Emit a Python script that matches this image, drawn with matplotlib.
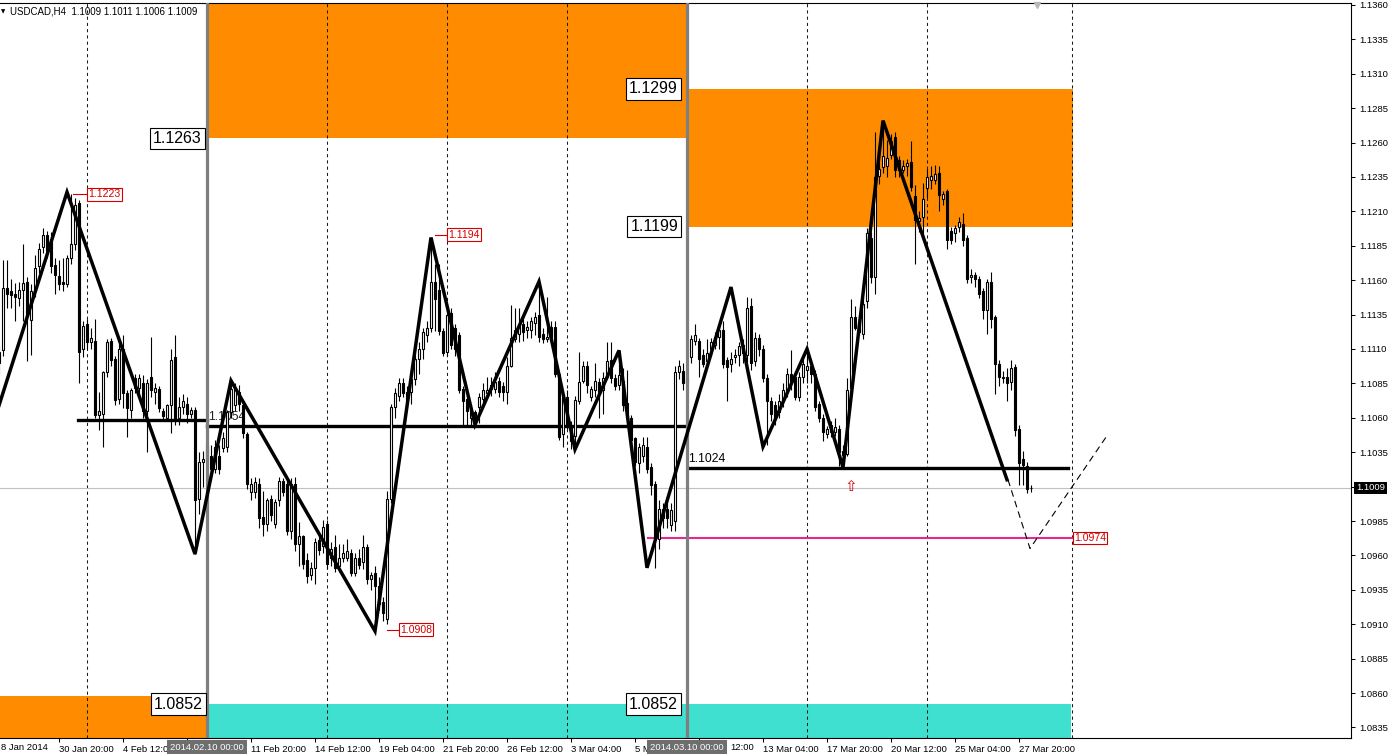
import matplotlib
matplotlib.use('Agg')
import matplotlib.pyplot as plt
from matplotlib.patches import Rectangle
import numpy as np

plt.rcParams['font.family'] = ['Liberation Sans', 'DejaVu Sans']

# USDCAD H4 candles, prices in pips above 1.0000 (1.1009 -> 1009)
opens = [
    1100, 1109, 1154, 1152, 1150, 1147, 1153, 1159, 1131, 1152,
    1170, 1184, 1193, 1189, 1171, 1163, 1159, 1157, 1176, 1186,
    1216, 1110, 1128, 1115, 1116, 1062, 1063, 1093, 1116, 1103,
    1074, 1110, 1078, 1066, 1089, 1082, 1085, 1065, 1090, 1079,
    1081, 1065, 1060, 1069, 1104, 1060, 1068, 1070, 1063, 1066,
    1001, 1028, 1030, 1032, 1023, 1032, 1038, 1039, 1064, 1069,
    1079, 1069, 1048, 1006, 1006, 1012, 988, 983, 1001, 983,
    1000, 1014, 1012, 978, 1012, 968, 974, 957, 946, 951,
    971, 967, 983, 958, 966, 952, 958, 958, 962, 947,
    958, 955, 966, 943, 947, 938, 926, 914, 1001, 1068,
    1076, 1085, 1073, 1079, 1088, 1103, 1110, 1120, 1125, 1159,
    1153, 1123, 1108, 1136, 1125, 1120, 1081, 1074, 1060, 1064,
    1068, 1074, 1078, 1084, 1081, 1087, 1083, 1079, 1098, 1117,
    1121, 1128, 1124, 1124, 1129, 1135, 1121, 1117, 1126, 1126,
    1092, 1048, 1075, 1055, 1047, 1072, 1087, 1098, 1075, 1080,
    1086, 1080, 1090, 1102, 1089, 1084, 1087, 1071, 1060, 1045,
    1027, 1032, 1039, 1024, 1012, 972, 987, 994, 982, 985,
    1093, 1094, 1085, 1104, 1116, 1116, 1106, 1101, 1110, 1113,
    1119, 1124, 1102, 1099, 1104, 1106, 1113, 1106, 1141, 1101,
    1118, 1110, 1089, 1072, 1069, 1064, 1072, 1080, 1092, 1090,
    1075, 1090, 1095, 1098, 1092, 1070, 1060, 1048, 1055, 1050,
    1052, 1036, 1034, 1082, 1133, 1122, 1121, 1145, 1191, 1162,
    1236, 1242, 1243, 1251, 1264, 1247, 1240, 1243, 1246, 1221,
    1203, 1206, 1227, 1233, 1233, 1238, 1219, 1225, 1196, 1194,
    1199, 1201, 1191, 1162, 1164, 1161, 1152, 1138, 1159, 1133,
    1099, 1089, 1090, 1086, 1097, 1052, 1030, 1025, 1009]
highs = [
    1112, 1175, 1175, 1161, 1158, 1159, 1186, 1162, 1157, 1178,
    1187, 1198, 1196, 1195, 1176, 1175, 1176, 1178, 1223, 1220,
    1218, 1130, 1132, 1125, 1132, 1079, 1094, 1117, 1118, 1105,
    1114, 1120, 1080, 1082, 1092, 1092, 1091, 1088, 1119, 1085,
    1083, 1067, 1070, 1110, 1120, 1075, 1077, 1075, 1068, 1068,
    1035, 1036, 1046, 1040, 1044, 1040, 1050, 1066, 1087, 1085,
    1084, 1070, 1050, 1016, 1017, 1016, 1007, 1002, 1004, 1001,
    1017, 1016, 1016, 1016, 1017, 984, 975, 962, 955, 973,
    974, 986, 986, 970, 975, 968, 968, 972, 965, 962,
    965, 975, 968, 948, 952, 944, 930, 1007, 1070, 1082,
    1089, 1089, 1083, 1090, 1106, 1115, 1125, 1130, 1191, 1172,
    1172, 1125, 1140, 1140, 1128, 1122, 1083, 1078, 1070, 1066,
    1078, 1085, 1090, 1090, 1093, 1090, 1086, 1104, 1142, 1140,
    1140, 1135, 1130, 1133, 1137, 1159, 1125, 1148, 1130, 1130,
    1093, 1078, 1080, 1058, 1076, 1108, 1101, 1101, 1083, 1100,
    1089, 1093, 1115, 1115, 1092, 1109, 1096, 1095, 1062, 1046,
    1042, 1046, 1046, 1027, 1014, 1000, 998, 999, 998, 1098,
    1102, 1100, 1092, 1120, 1128, 1118, 1110, 1117, 1118, 1122,
    1125, 1130, 1104, 1108, 1110, 1115, 1117, 1148, 1147, 1122,
    1121, 1113, 1092, 1075, 1072, 1077, 1085, 1096, 1109, 1093,
    1093, 1103, 1110, 1103, 1095, 1072, 1063, 1054, 1058, 1060,
    1055, 1040, 1089, 1146, 1141, 1133, 1148, 1198, 1195, 1268,
    1258, 1276, 1262, 1266, 1268, 1250, 1247, 1248, 1261, 1229,
    1210, 1231, 1241, 1243, 1244, 1243, 1225, 1226, 1199, 1200,
    1206, 1209, 1193, 1168, 1166, 1163, 1154, 1161, 1166, 1135,
    1102, 1094, 1096, 1102, 1099, 1055, 1036, 1028, 1011]
lows = [
    1092, 1105, 1140, 1140, 1130, 1141, 1130, 1101, 1106, 1148,
    1165, 1180, 1176, 1165, 1150, 1153, 1152, 1155, 1172, 1182,
    1085, 1104, 1110, 1110, 1060, 1051, 1039, 1090, 1098, 1069,
    1070, 1067, 1046, 1060, 1078, 1077, 1060, 1035, 1075, 1070,
    1064, 1058, 1058, 1049, 1055, 1055, 1063, 1056, 1060, 961,
    990, 1010, 1015, 1018, 1020, 1019, 1035, 1035, 1060, 1065,
    1065, 1045, 1008, 1000, 1002, 980, 974, 978, 985, 980,
    996, 1003, 975, 972, 963, 952, 950, 940, 942, 939,
    960, 962, 950, 952, 948, 948, 955, 956, 945, 945,
    950, 950, 939, 935, 906, 920, 912, 910, 998, 1060,
    1072, 1075, 1067, 1070, 1084, 1092, 1103, 1115, 1122, 1123,
    1120, 1105, 1105, 1110, 1105, 1078, 1054, 1054, 1055, 1055,
    1056, 1070, 1075, 1076, 1078, 1075, 1072, 1070, 1097, 1115,
    1115, 1116, 1118, 1118, 1120, 1115, 1114, 1115, 1115, 1090,
    1044, 1039, 1052, 1037, 1040, 1070, 1085, 1078, 1072, 1075,
    1060, 1063, 1088, 1085, 1080, 1080, 1065, 1058, 1040, 1025,
    1020, 1028, 1020, 1004, 951, 965, 980, 980, 978, 978,
    1088, 1080, 1080, 1100, 1113, 1090, 1097, 1099, 1105, 1110,
    1110, 1096, 1072, 1093, 1100, 1098, 1100, 1095, 1095, 1098,
    1105, 1086, 1040, 1058, 1055, 1060, 1068, 1075, 1080, 1073,
    1072, 1085, 1085, 1085, 1065, 1057, 1043, 1045, 1046, 1047,
    1025, 1024, 1032, 1080, 1124, 1120, 1117, 1140, 1158, 1150,
    1230, 1238, 1235, 1248, 1235, 1235, 1238, 1236, 1225, 1172,
    1195, 1189, 1220, 1226, 1230, 1210, 1215, 1183, 1186, 1188,
    1195, 1185, 1158, 1158, 1155, 1147, 1132, 1121, 1125, 1077,
    1083, 1085, 1072, 1080, 1047, 1011, 1011, 1005, 1006]
closes = [
    1108, 1154, 1150, 1149, 1148, 1153, 1158, 1134, 1152, 1169,
    1183, 1193, 1181, 1170, 1164, 1157, 1157, 1176, 1186, 1215,
    1108, 1127, 1115, 1118, 1062, 1065, 1093, 1115, 1102, 1073,
    1110, 1078, 1067, 1080, 1082, 1089, 1065, 1085, 1080, 1082,
    1067, 1061, 1069, 1102, 1058, 1068, 1072, 1063, 1066, 1000,
    1028, 1030, 1040, 1023, 1039, 1023, 1045, 1064, 1081, 1082,
    1070, 1049, 1012, 1012, 1013, 987, 983, 1000, 989, 999,
    1014, 1006, 978, 1012, 968, 974, 954, 945, 951, 970,
    964, 981, 954, 965, 951, 958, 962, 963, 947, 958,
    953, 966, 943, 946, 938, 925, 918, 1001, 1068, 1078,
    1085, 1078, 1079, 1088, 1103, 1110, 1122, 1125, 1159, 1146,
    1123, 1107, 1135, 1113, 1110, 1080, 1072, 1065, 1066, 1058,
    1075, 1080, 1080, 1081, 1086, 1079, 1079, 1098, 1118, 1124,
    1127, 1122, 1126, 1130, 1133, 1119, 1117, 1119, 1119, 1092,
    1046, 1075, 1055, 1043, 1073, 1086, 1098, 1084, 1081, 1087,
    1079, 1089, 1101, 1089, 1083, 1091, 1069, 1060, 1044, 1028,
    1039, 1040, 1023, 1011, 972, 994, 994, 987, 993, 1093,
    1098, 1085, 1090, 1117, 1120, 1103, 1099, 1107, 1115, 1119,
    1124, 1099, 1097, 1103, 1106, 1112, 1107, 1140, 1100, 1118,
    1110, 1089, 1072, 1063, 1060, 1072, 1080, 1092, 1087, 1075,
    1090, 1099, 1098, 1092, 1068, 1060, 1050, 1052, 1050, 1053,
    1035, 1033, 1080, 1133, 1125, 1128, 1143, 1194, 1162, 1235,
    1241, 1250, 1249, 1261, 1240, 1240, 1243, 1245, 1228, 1204,
    1205, 1219, 1235, 1236, 1237, 1222, 1223, 1189, 1189, 1198,
    1202, 1189, 1161, 1164, 1161, 1150, 1138, 1159, 1132, 1099,
    1090, 1090, 1085, 1096, 1051, 1027, 1026, 1008, 1009]

# ZigZag pivots (bar index, pips) and the dashed projection
zz_bars = [0, 17, 49, 58, 94, 108, 119, 135, 144, 155, 162, 183, 191, 202, 211, 221, 252]
zz_pips = [1069, 1224, 961, 1087, 905, 1191, 1055, 1159, 1037, 1109, 951, 1155, 1039, 1110, 1024, 1276, 1015]
proj_bars = [252.25, 257.75, 277]
proj_pips = [1015, 965, 1047]

# time scale; labels partly covered by the vertical-line date boxes are cut as on screen
time_ticks = [15, 31, 47, 63, 79, 95, 111, 127, 143, 159, 175, 191, 207, 223, 239, 255]
time_labels = ['30 Jan 20:00', '4 Feb 12:0', '', '11 Feb 20:00', '14 Feb 12:00',
               '19 Feb 04:00', '21 Feb 20:00', '26 Feb 12:00', '3 Mar 04:00', '5 M',
               '', '13 Mar 04:00', '17 Mar 20:00', '20 Mar 12:00', '25 Mar 04:00',
               '27 Mar 20:00']
price_ticks = [1.0835, 1.0860, 1.0885, 1.0910, 1.0935, 1.0960, 1.0985,
               1.1010, 1.1035, 1.1060, 1.1085, 1.1110, 1.1135, 1.1160,
               1.1185, 1.1210, 1.1235, 1.1260, 1.1285, 1.1310, 1.1335, 1.1360]
week_bars = [22, 82, 112, 142, 202, 232, 268.25]


def P(v):
    return 1 + np.asarray(v, dtype=float) / 10000


def B(px):
    # pixel column of the chart -> bar index
    return (px + 1) / 4.0


fig = plt.figure(figsize=(13.93, 7.56), dpi=100)
ax = fig.add_axes([0, 18 / 756, 1351 / 1393, 735 / 756])
ax.set_xlim(0.25, 338)
ax.set_ylim(1.08273, 1.136145)

orange = '#ff8c00'
cyan = '#40e0d0'
top = 1.14
bot = 1.08
ax.add_patch(Rectangle((52, 1.1263), B(686) - 52, top - 1.1263, fc=orange, ec='none', zorder=0))
ax.add_patch(Rectangle((B(688), 1.1199), B(1073) - B(688), 0.0100, fc=orange, ec='none', zorder=0))
ax.add_patch(Rectangle((-2, bot), B(206) + 2, 1.0858 - bot, fc=orange, ec='none', zorder=0))
ax.add_patch(Rectangle((B(208), bot), B(686) - B(208), 1.0852 - bot, fc=cyan, ec='none', zorder=0))
ax.add_patch(Rectangle((B(688), bot), B(1071) - B(688), 1.0852 - bot, fc=cyan, ec='none', zorder=0))

for wb in week_bars:
    ax.axvline(wb, color='#1a1a1a', lw=0.75, ls=(0, (3, 3)), zorder=1)

# current bid line
ax.axhline(P(1009), color='#c0c0c0', lw=0.8, zorder=1.5)

# horizontal levels
ax.plot([B(78), 52], [1.10585, 1.10585], color='black', lw=2.4, zorder=2.5)
ax.plot([52, B(686)], [1.1054, 1.1054], color='black', lw=2.4, zorder=2.5)
ax.plot([B(688), B(1068)], [1.10235, 1.10235], color='black', lw=2.4, zorder=2.5)
ax.plot([B(648), B(1072)], [1.0973, 1.0973], color='#e6278e', lw=1.5, zorder=2.5)
ax.text(B(208), 1.1054 + 0.00025, '1.1054', fontsize=8.8, color='#222222', ha='left', va='bottom', zorder=2)
ax.text(B(688), 1.10235 + 0.00025, '1.1024', fontsize=8.8, color='black', ha='left', va='bottom', zorder=2)

# candles
idx = np.arange(len(opens))
O, H, L, C = P(opens), P(highs), P(lows), P(closes)
ax.vlines(idx, L, H, color='black', lw=0.8, zorder=3)
body_lo = np.minimum(O, C)
body_h = np.maximum(np.abs(C - O), 0.00003)
fills = ['white' if c >= o else 'black' for o, c in zip(opens, closes)]
ax.bar(idx, body_h, bottom=body_lo, width=0.55, color=fills, edgecolor='black', linewidth=0.8, zorder=3.2)

# period separators
ax.axvline(52, color='#7f7f7f', lw=2.3, zorder=3.5)
ax.axvline(172, color='#7f7f7f', lw=2.3, zorder=3.5)

# zigzag
ax.plot(zz_bars, P(zz_pips), color='black', lw=2.5, zorder=5, solid_joinstyle='miter')
ax.plot(proj_bars, P(proj_pips), color='black', lw=0.8, ls=(0, (6, 4)), zorder=5)

# red price labels
red = '#d40000'
for x0, x1, tx, v, s in [(B(73), B(86), B(88), 1222.3, '1.1223'),
                          (B(435), B(446), B(448), 1193.2, '1.1194'),
                          (B(387), B(398), B(400), 906.1, '1.0908'),
                          (None, None, B(1074), 972.7, '1.0974')]:
    if x0 is not None:
        ax.plot([x0, x1], [P(v), P(v)], color=red, lw=0.8, zorder=6)
    ax.text(tx, P(v), s, color=red, fontsize=7.6, ha='left', va='center', zorder=7,
            bbox=dict(boxstyle='square,pad=0.12', fc='white', ec=red, lw=0.8))

ax.text(B(851), P(1010), '\u21e7', color=red, fontsize=11, ha='center', va='center',
        family='DejaVu Sans', zorder=6)

# boxed level labels
for xr, v, s in [(B(202), 1.1263, '1.1263'), (B(678), 1.1299, '1.1299'),
                 (B(678), 1.1199, '1.1199'), (B(203), 1.0852, '1.0852'),
                 (B(678), 1.0852, '1.0852')]:
    ax.text(xr, v, s, fontsize=11.5, ha='right', va='center', zorder=7,
            bbox=dict(boxstyle='square,pad=0.2', fc='white', ec='black', lw=0.8))

# chart shift marker
ax.plot([B(1037)], [1.1360], marker='v', color='#b8b8b8', ms=5, zorder=7, clip_on=False)

# axes styling
ax.spines['left'].set_visible(False)
for s in ['top', 'right', 'bottom']:
    ax.spines[s].set_linewidth(0.8)
ax.yaxis.tick_right()
ax.set_yticks(price_ticks)
ax.set_yticklabels(['' if abs(t - 1.1010) < 1e-6 else '%.4f' % t for t in price_ticks])
ax.set_xticks(time_ticks)
ax.set_xticklabels(time_labels, ha='left')
ax.tick_params(axis='both', labelsize=6.8, length=3, width=0.75, pad=2)
ax.tick_params(axis='y', pad=3)

xt = ax.get_xaxis_transform()
ax.text(0.6, -9 / 735, '8 Jan 2014', transform=xt, fontsize=6.8,
        ha='left', va='center', clip_on=False)
ax.text(B(730), -9 / 735, '12:00', transform=xt, fontsize=6.8,
        ha='left', va='center', clip_on=False)
for b, s in [(52, '2014.02.10 00:00'), (172, '2014.03.10 00:00')]:
    ax.text(b, -9 / 735, s, transform=xt, fontsize=6.8, color='white',
            ha='center', va='center', clip_on=False, zorder=10,
            bbox=dict(boxstyle='square,pad=0.3', fc='#6e6e6e', ec='none'))

ax.text(1 + 5 / 1351, P(1009), '1.1009', transform=ax.get_yaxis_transform(), fontsize=6.8,
        color='white', ha='left', va='center', clip_on=False, zorder=10,
        bbox=dict(boxstyle='square,pad=0.2', fc='black', ec='none'))

fig.text(10 / 1393, 1 - 12 / 756, 'USDCAD,H4  1.1009 1.1011 1.1006 1.1009', fontsize=7,
         ha='left', va='center')
fig.text(1 / 1393, 1 - 12 / 756, '\u25bc', fontsize=4, family='DejaVu Sans', ha='left', va='center')

fig.savefig('out.png', dpi=100)
